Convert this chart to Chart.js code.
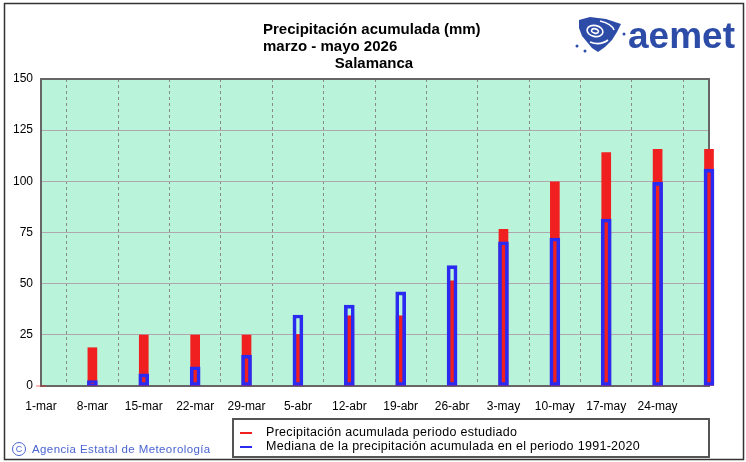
<!DOCTYPE html>
<html lang="es">
<head>
  <meta charset="UTF-8">
  <title>Precipitación acumulada - Salamanca</title>
  <script src="https://cdn.jsdelivr.net/npm/chart.js"></script>
  <style>
    body { margin: 0; background: #fff; }
  </style>
</head>
<body>
  <canvas id="myChart" width="746" height="462"></canvas>
  <script>
    // semanas (el ultimo punto, 31-may, no lleva etiqueta)
    const weeks = ['1-mar', '8-mar', '15-mar', '22-mar', '29-mar', '5-abr', '12-abr',
      '19-abr', '26-abr', '3-may', '10-may', '17-may', '24-may', '31-may']
    // precipitacion acumulada del periodo estudiado (mm)
    const observed = [0, 18.7, 24.9, 24.9, 24.9, 25.2, 34.3, 34.3, 51.4, 76.5, 99.8, 114, 115.6, 115.6]
    // mediana 1991-2020 (mm)
    const median = [0, 2.6, 5.9, 9.4, 15.1, 34.7, 39.5, 46, 58.8, 70.5, 72.3, 81.6, 99.5, 106]
    const yTicks = [0, 25, 50, 75, 100, 125, 150]

    const titleLines = ['Precipitación acumulada (mm)', 'marzo - mayo 2026']
    const station = 'Salamanca'
    const legendLabels = ['Precipitación acumulada periodo estudiado',
      'Mediana de la precipitación acumulada en el periodo 1991-2020']

    const FONT = '"Liberation Sans", Arial, sans-serif'

    const decor = {
      id: 'decor',
      beforeDraw(chart) {
        const { ctx, chartArea: a } = chart
        ctx.save()
        ctx.fillStyle = '#b9f3d9'
        ctx.fillRect(a.left, a.top, a.right - a.left, a.bottom - a.top)
        ctx.restore()
      },
      beforeDatasetsDraw(chart) {
        const { ctx, chartArea: a } = chart
        ctx.save()
        ctx.strokeStyle = '#666'
        ctx.lineWidth = 2
        ctx.strokeRect(a.left, a.top, a.right - a.left, a.bottom - a.top)
        ctx.restore()
      },
      afterDraw(chart) {
        const { ctx } = chart
        ctx.save()
        // marco exterior
        ctx.strokeStyle = '#333'
        ctx.lineWidth = 1.5
        ctx.strokeRect(4.5, 3.5, 739, 456)

        // titulo
        ctx.fillStyle = '#000'
        ctx.textBaseline = 'middle'
        ctx.font = 'bold 15px "Liberation Sans Narrow", "Liberation Sans", Arial, sans-serif'
        ctx.textAlign = 'left'
        ctx.fillText(titleLines[0], 263, 30)
        ctx.fillText(titleLines[1], 263, 47)
        ctx.textAlign = 'center'
        ctx.fillText(station, 374, 64)

        // logo
        ctx.fillStyle = '#2c4ca8'
        ctx.font = 'bold 37px ' + FONT
        ctx.textAlign = 'left'
        ctx.textBaseline = 'alphabetic'
        ctx.fillText('aemet', 628, 48)
        ctx.beginPath()
        const pts = [[579, 20], [590, 17], [606, 19], [621, 24], [617, 32], [612, 40], [605, 47],
          [598, 52], [592, 48], [587, 42], [582, 36], [579, 28]]
        pts.forEach((p, i) => i ? ctx.lineTo(p[0], p[1]) : ctx.moveTo(p[0], p[1]))
        ctx.closePath()
        ctx.fill()
        ctx.strokeStyle = '#fff'
        ctx.lineWidth = 1.6
        ctx.beginPath(); ctx.ellipse(595, 31, 8, 5.5, 0.2, 0, Math.PI * 2); ctx.stroke()
        ctx.beginPath(); ctx.ellipse(595, 31, 3.5, 2.2, 0.2, 0, Math.PI * 2); ctx.stroke()
        ctx.beginPath(); ctx.moveTo(600, 21); ctx.quadraticCurveTo(612, 24, 614, 30); ctx.stroke()
        ctx.beginPath(); ctx.moveTo(590, 42); ctx.quadraticCurveTo(600, 46, 608, 40); ctx.stroke()
        ctx.fillStyle = '#2c4ca8'
        ;[[577, 46], [585, 51], [624, 34]].forEach(p => {
          ctx.beginPath(); ctx.arc(p[0], p[1], 1.5, 0, Math.PI * 2); ctx.fill()
        })

        // leyenda
        ctx.strokeStyle = '#555'
        ctx.lineWidth = 2
        ctx.strokeRect(233, 419, 476, 38)
        ctx.strokeStyle = '#f02020'
        ctx.beginPath(); ctx.moveTo(240, 433); ctx.lineTo(252, 433); ctx.stroke()
        ctx.strokeStyle = '#2a2af0'
        ctx.beginPath(); ctx.moveTo(240, 447); ctx.lineTo(252, 447); ctx.stroke()
        ctx.fillStyle = '#000'
        ctx.font = '12.5px ' + FONT
        ctx.textBaseline = 'middle'
        ctx.letterSpacing = '0.3px'
        ctx.fillText(legendLabels[0], 266, 433)
        ctx.fillText(legendLabels[1], 266, 447)

        // copyright
        ctx.fillStyle = '#4a64d0'
        ctx.font = '11.5px ' + FONT
        ctx.letterSpacing = '0.4px'
        ctx.fillText('Agencia Estatal de Meteorología', 32, 450)
        ctx.letterSpacing = '0px'
        ctx.strokeStyle = '#4a64d0'
        ctx.lineWidth = 1
        ctx.beginPath(); ctx.arc(19, 449, 6.5, 0, Math.PI * 2); ctx.stroke()
        ctx.font = '9px ' + FONT
        ctx.textAlign = 'center'
        ctx.fillText('C', 19, 449.5)
        ctx.restore()
      }
    }

    new Chart(document.getElementById('myChart'), {
      type: 'bar',
      data: {
        labels: weeks,
        datasets: [
          {
            label: legendLabels[0],
            data: observed,
            backgroundColor: '#f02020',
            barThickness: 9,
            order: 2,
            clip: false
          },
          {
            label: legendLabels[1],
            data: median,
            backgroundColor: 'rgba(0,0,0,0)',
            borderColor: '#2a2af0',
            borderWidth: 3,
            borderSkipped: false,
            barThickness: 10,
            order: 1,
            clip: false
          }
        ]
      },
      options: {
        responsive: false,
        animation: false,
        layout: { padding: { left: 4, right: 37, top: 79, bottom: 46 } },
        plugins: {
          legend: { display: false },
          title: { display: false },
          tooltip: { enabled: false }
        },
        datasets: { bar: { grouped: false } },
        scales: {
          x: {
            offset: false,
            afterFit(scale) { scale.height = 30 },
            grid: { color: '#8a8a8a', drawTicks: false },
            border: { display: false, dash: [3, 3] },
            ticks: {
              autoSkip: false,
              maxRotation: 0,
              padding: 13,
              color: '#000',
              font: { family: FONT, size: 12 },
              callback(v, i) { return i === weeks.length - 1 ? '' : weeks[i] }
            }
          },
          y: {
            min: 0,
            max: 150,
            afterFit(scale) { scale.width = 37 },
            afterBuildTicks(scale) { scale.ticks = yTicks.map(v => ({ value: v })) },
            grid: { color: '#b0a6ae', drawTicks: false },
            border: { display: false },
            ticks: {
              padding: 8,
              color: '#000',
              font: { family: FONT, size: 12 }
            }
          }
        }
      },
      plugins: [decor]
    })
  </script>
</body>
</html>
